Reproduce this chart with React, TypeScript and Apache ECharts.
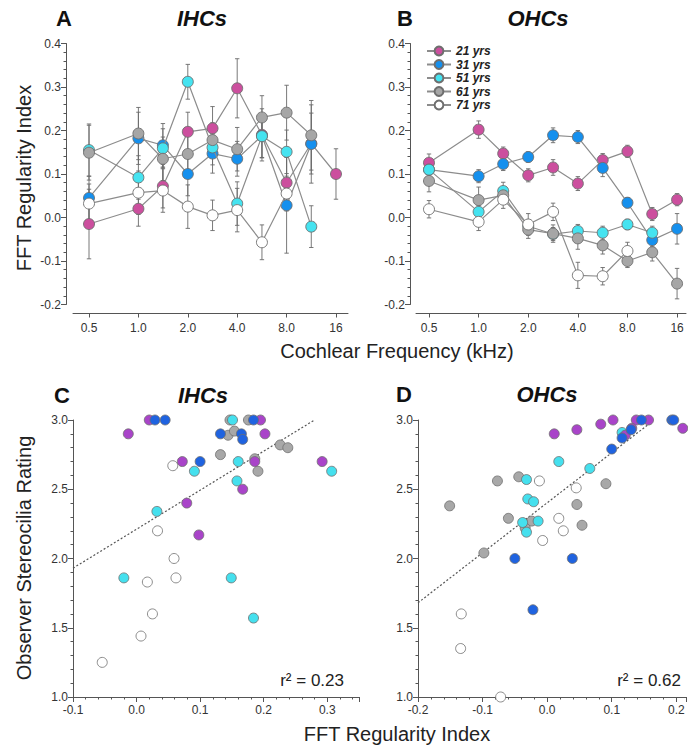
import React, { useEffect, useRef } from "react";
import * as echarts from "echarts";

// ---------- DATA ----------
const freqs = [0.5, 1, 1.41, 2, 2.83, 4, 5.66, 8, 11.31, 16];
const freqTickValues = [0.5, 1, 2, 4, 8, 16];
const freqTickLabels = ["0.5", "1.0", "2.0", "4.0", "8.0", "16"];
const ages = ["21 yrs", "31 yrs", "51 yrs", "61 yrs", "71 yrs"];

// Panel A: IHCs mean FFT regularity index (null = no data) and error (half length)
const ihc21 = [-0.015, 0.02, 0.072, 0.197, 0.205, 0.297, 0.19, 0.08, 0.17, 0.1];
const ihc21Err = [0.08, 0.04, 0.05, 0.045, 0.05, 0.068, 0.06, 0.06, 0.07, 0.058];
const ihc31 = [0.045, 0.182, 0.166, 0.1, 0.147, 0.135, 0.188, 0.028, 0.169, null];
const ihc31Err = [0.05, 0.06, 0.05, 0.05, 0.045, 0.04, 0.05, 0.11, 0.09, null];
const ihc51 = [0.155, 0.092, 0.159, 0.312, 0.161, 0.032, 0.187, 0.151, -0.021, null];
const ihc51Err = [0.06, 0.05, 0.045, 0.04, 0.04, 0.05, 0.05, 0.05, 0.048, null];
const ihc61 = [0.149, 0.193, 0.135, 0.146, 0.178, 0.157, 0.23, 0.241, 0.189, null];
const ihc61Err = [0.063, 0.06, 0.05, 0.05, 0.04, 0.05, 0.05, 0.063, 0.08, null];
const ihc71 = [0.032, 0.057, 0.062, 0.025, 0.005, 0.017, -0.057, 0.055, null, null];
const ihc71Err = [0.045, 0.05, 0.05, 0.05, 0.035, 0.05, 0.04, 0.04, null, null];

// Panel B: OHCs
const ohc21 = [0.126, 0.202, 0.147, 0.097, 0.115, 0.078, 0.132, 0.152, 0.008, 0.041];
const ohc21Err = [0.02, 0.02, 0.015, 0.015, 0.018, 0.016, 0.015, 0.014, 0.015, 0.014];
const ohc31 = [0.11, 0.095, 0.123, 0.139, 0.189, 0.185, 0.114, 0.034, -0.052, -0.026];
const ohc31Err = [0.015, 0.015, 0.015, 0.012, 0.017, 0.015, 0.02, 0.012, 0.015, 0.035];
const ohc51 = [0.11, 0.013, 0.061, -0.02, -0.038, -0.031, -0.035, -0.016, -0.035, null];
const ohc51Err = [0.015, 0.015, 0.02, 0.015, 0.015, 0.015, 0.015, 0.012, 0.015, null];
const ohc61 = [0.084, 0.04, 0.051, -0.028, -0.037, -0.048, -0.064, -0.1, -0.08, -0.152];
const ohc61Err = [0.025, 0.03, 0.02, 0.02, 0.02, 0.025, 0.02, 0.015, 0.02, 0.035];
const ohc71 = [0.019, -0.01, 0.041, -0.016, 0.013, -0.133, -0.135, -0.077, null, null];
const ohc71Err = [0.02, 0.02, 0.02, 0.025, 0.02, 0.03, 0.02, 0.02, null, null];

// Panel C: IHCs, [FFT regularity index, observer stereocilia rating]
const c21 = [[-0.013, 2.9], [0.02, 3.0], [0.072, 2.7], [0.079, 2.4], [0.098, 2.17], [0.167, 2.5], [0.186, 2.7], [0.195, 3.0], [0.202, 2.9], [0.292, 2.7]];
const c31 = [[0.029, 3.0], [0.045, 3.0], [0.1, 2.7], [0.132, 2.9], [0.165, 2.9], [0.167, 2.86], [0.184, 3.0]];
const c51 = [[0.091, 2.63], [0.032, 2.34], [-0.02, 1.86], [0.149, 1.86], [0.184, 1.57], [0.158, 2.56], [0.16, 2.7], [0.151, 3.0], [0.307, 2.63]];
const c61 = [[0.132, 2.75], [0.144, 2.89], [0.154, 2.92], [0.147, 3.0], [0.176, 3.0], [0.186, 2.72], [0.191, 2.63], [0.226, 2.82], [0.238, 2.8]];
const c71 = [[0.057, 2.67], [0.033, 2.2], [0.059, 2.0], [0.017, 1.83], [0.062, 1.86], [0.025, 1.6], [0.007, 1.44], [-0.054, 1.25]];
const regC = [[-0.1, 1.93], [0.28, 3.0]];

// Panel D: OHCs
const d21 = [[0.011, 2.9], [0.046, 2.93], [0.083, 2.97], [0.102, 3.0], [0.138, 3.0], [0.157, 3.0], [0.131, 2.94], [0.121, 2.89], [0.21, 2.94]];
const d31 = [[-0.05, 2.0], [0.039, 2.0], [-0.022, 1.63], [0.1, 2.79], [0.116, 2.87], [0.13, 2.93], [0.146, 3.0], [0.193, 3.0], [0.196, 3.0]];
const d51 = [[-0.032, 2.57], [-0.03, 2.43], [-0.021, 2.41], [-0.038, 2.26], [-0.032, 2.19], [-0.014, 2.27], [0.018, 2.7], [0.066, 2.65], [0.116, 2.91]];
const d61 = [[-0.151, 2.38], [-0.098, 2.04], [-0.077, 2.56], [-0.044, 2.59], [-0.06, 2.29], [-0.024, 2.27], [-0.034, 2.22], [0.046, 2.39], [0.054, 2.24], [0.091, 2.54]];
const d71 = [[-0.012, 2.56], [0.045, 2.51], [0.018, 2.29], [0.025, 2.2], [-0.007, 2.13], [-0.133, 1.6], [-0.134, 1.35], [-0.072, 1.0]];
const regD = [[-0.2, 1.68], [0.16, 2.98]];

const r2C = "0.23";
const r2D = "0.62";

// ---------- STYLE ----------
const FONT = "'Liberation Sans', Arial, Helvetica, sans-serif";
const topColors = ["#cc4f9e", "#1590ee", "#45e3f0", "#a6a6a6", "#ffffff"];
const botColors = ["#a944c9", "#1f63e0", "#45e0ee", "#a8a8a8", "#ffffff"];
const AXIS = "#555";
const LABEL = "#333";

const log2 = (v: number) => Math.log2(v);

function lineData(means: (number | null)[]) {
  const out: number[][] = [];
  means.forEach((m, i) => {
    if (m !== null) out.push([log2(freqs[i]), m]);
  });
  return out;
}
function errData(means: (number | null)[], errs: (number | null)[]) {
  const out: number[][] = [];
  means.forEach((m, i) => {
    const e = errs[i];
    if (m !== null && e !== null) out.push([log2(freqs[i]), m - e, m + e]);
  });
  return out;
}

const errRender = (params: any, api: any) => {
  const x = api.value(0);
  const lo = api.value(1);
  const hi = api.value(2);
  const top = api.coord([x, hi]);
  const bot = api.coord([x, lo]);
  const w = 2.2;
  const style = { stroke: "#6a6a6a", lineWidth: 0.9 };
  return {
    type: "group",
    children: [
      { type: "line", shape: { x1: top[0], y1: top[1], x2: bot[0], y2: bot[1] }, style },
      { type: "line", shape: { x1: top[0] - w, y1: top[1], x2: top[0] + w, y2: top[1] }, style },
      { type: "line", shape: { x1: bot[0] - w, y1: bot[1], x2: bot[0] + w, y2: bot[1] }, style },
    ],
  };
};

function freqXAxis(gridIndex: number, min: number, max: number) {
  const ticks = freqTickValues.map(log2);
  return {
    type: "value",
    gridIndex,
    min,
    max,
    offset: 9,
    splitLine: { show: false },
    axisLine: { show: true, onZero: false, lineStyle: { color: AXIS, width: 1 } },
    axisTick: { show: true, customValues: ticks, length: 4, lineStyle: { color: AXIS } },
    axisLabel: {
      customValues: ticks,
      color: LABEL,
      fontFamily: FONT,
      fontSize: 12,
      margin: 8,
      formatter: (v: number) => {
        const idx = ticks.findIndex((t) => Math.abs(t - v) < 1e-6);
        return idx >= 0 ? freqTickLabels[idx] : "";
      },
    },
  };
}

function fftYAxis(gridIndex: number, offset: number) {
  return {
    type: "value",
    gridIndex,
    min: -0.2,
    max: 0.4,
    interval: 0.1,
    offset,
    splitLine: { show: false },
    axisLine: { show: true, onZero: false, lineStyle: { color: AXIS, width: 1 } },
    axisTick: { show: true, length: 5, lineStyle: { color: AXIS } },
    minorTick: { show: true, splitNumber: 5, length: 2.5, lineStyle: { color: AXIS } },
    axisLabel: { color: LABEL, fontFamily: FONT, fontSize: 12, margin: 5, formatter: (v: number) => v.toFixed(1) },
  };
}

function ratingYAxis(gridIndex: number) {
  return {
    type: "value",
    gridIndex,
    min: 1.0,
    max: 3.0,
    interval: 0.5,
    splitLine: { show: false },
    axisLine: { show: true, onZero: false, lineStyle: { color: AXIS, width: 1 } },
    axisTick: { show: true, length: 5, lineStyle: { color: AXIS } },
    minorTick: { show: true, splitNumber: 5, length: 2.5, lineStyle: { color: AXIS } },
    axisLabel: { color: LABEL, fontFamily: FONT, fontSize: 12, margin: 5, formatter: (v: number) => v.toFixed(1) },
  };
}

function fftXAxis(gridIndex: number, min: number, max: number) {
  return {
    type: "value",
    gridIndex,
    min,
    max,
    interval: 0.1,
    splitLine: { show: false },
    axisLine: { show: true, onZero: false, lineStyle: { color: AXIS, width: 1 } },
    axisTick: { show: true, length: 5, lineStyle: { color: AXIS } },
    minorTick: { show: true, splitNumber: 5, length: 2.5, lineStyle: { color: AXIS } },
    axisLabel: {
      color: LABEL,
      fontFamily: FONT,
      fontSize: 12,
      margin: 7,
      showMaxLabel: false,
      formatter: (v: number) => (Math.abs(v) < 1e-9 ? "0.0" : v.toFixed(1)),
    },
  };
}

function buildOption() {
  const series: any[] = [];
  const topSets = [
    { idx: 1, means: [ohc21, ohc31, ohc51, ohc61, ohc71], errs: [ohc21Err, ohc31Err, ohc51Err, ohc61Err, ohc71Err] },
    { idx: 0, means: [ihc21, ihc31, ihc51, ihc61, ihc71], errs: [ihc21Err, ihc31Err, ihc51Err, ihc61Err, ihc71Err] },
  ];
  topSets.forEach((set) => {
    set.means.forEach((m, k) => {
      series.push({
        type: "custom",
        name: (set.idx === 0 ? "IHC err " : "OHC err ") + ages[k],
        xAxisIndex: set.idx,
        yAxisIndex: set.idx,
        renderItem: errRender,
        encode: { x: 0, y: [1, 2] },
        data: errData(m, set.errs[k]),
        z: 1,
        clip: false,
        silent: true,
      });
    });
    set.means.forEach((m, k) => {
      series.push({
        type: "line",
        name: ages[k],
        xAxisIndex: set.idx,
        yAxisIndex: set.idx,
        data: lineData(m),
        symbol: "circle",
        symbolSize: 11,
        z: 2 + k * 0.1,
        lineStyle: { color: "#8c8c8c", width: 1.2 },
        itemStyle: { color: topColors[k], borderColor: "#6e6e6e", borderWidth: 0.9 },
      });
    });
  });

  const botSets = [
    { idx: 2, pts: [c21, c31, c51, c61, c71], reg: regC, label: "IHC " },
    { idx: 3, pts: [d21, d31, d51, d61, d71], reg: regD, label: "OHC " },
  ];
  botSets.forEach((set) => {
    series.push({
      type: "line",
      name: set.label + "fit",
      xAxisIndex: set.idx,
      yAxisIndex: set.idx,
      data: set.reg,
      symbol: "none",
      z: 1,
      lineStyle: { color: "#555", width: 1.2, type: [2, 2] },
      silent: true,
    });
    const order = [4, 3, 2, 0, 1];
    order.forEach((k) => {
      series.push({
        type: "scatter",
        name: set.label + ages[k],
        xAxisIndex: set.idx,
        yAxisIndex: set.idx,
        data: set.pts[k],
        symbol: "circle",
        symbolSize: 10,
        clip: false,
        z: 3,
        itemStyle: { color: botColors[k], borderColor: "#6e6e6e", borderWidth: 0.8, opacity: 1 },
      });
    });
  });

  const titleFont = (size: number, italic = false) => ({
    font: `${italic ? "italic " : ""}bold ${size}px ${FONT}`,
    fill: "#111",
    align: "center",
    verticalAlign: "middle",
  });
  const plainFont = (size: number) => ({
    font: `${size}px ${FONT}`,
    fill: "#222",
    align: "center",
    verticalAlign: "middle",
  });

  const graphic: any[] = [
    { type: "text", x: 64, y: 18, style: { text: "A", ...titleFont(22) } },
    { type: "text", x: 202, y: 18, style: { text: "IHCs", ...titleFont(22, true) } },
    { type: "text", x: 405, y: 18, style: { text: "B", ...titleFont(22) } },
    { type: "text", x: 538, y: 18, style: { text: "OHCs", ...titleFont(22, true) } },
    { type: "text", x: 62, y: 395, style: { text: "C", ...titleFont(22) } },
    { type: "text", x: 203, y: 395, style: { text: "IHCs", ...titleFont(22, true) } },
    { type: "text", x: 404, y: 394, style: { text: "D", ...titleFont(22) } },
    { type: "text", x: 547, y: 394, style: { text: "OHCs", ...titleFont(22, true) } },
    { type: "text", x: 24, y: 178, rotation: Math.PI / 2, style: { text: "FFT Regularity Index", ...plainFont(20) } },
    { type: "text", x: 397, y: 351, style: { text: "Cochlear Frequency (kHz)", ...plainFont(20) } },
    { type: "text", x: 24, y: 558, rotation: Math.PI / 2, style: { text: "Observer Stereocilia Rating", ...plainFont(20) } },
    { type: "text", x: 397, y: 734, style: { text: "FFT Regularity Index", ...plainFont(20) } },
    { type: "text", x: 344, y: 680, style: { text: "r\u00B2 = " + r2C, font: `17px ${FONT}`, fill: "#222", align: "right", verticalAlign: "middle" } },
    { type: "text", x: 681, y: 680, style: { text: "r\u00B2 = " + r2D, font: `17px ${FONT}`, fill: "#222", align: "right", verticalAlign: "middle" } },
  ];

  return {
    animation: false,
    backgroundColor: "#ffffff",
    textStyle: { fontFamily: FONT },
    legend: {
      data: ages,
      orient: "vertical",
      left: 421,
      top: 40,
      itemWidth: 24,
      itemHeight: 11,
      itemGap: 1.5,
      textStyle: { fontFamily: FONT, fontSize: 12, fontWeight: "bold", fontStyle: "italic", color: "#222" },
      selectedMode: false,
    },
    grid: [
      { left: 73, top: 43.5, width: 275, height: 261 },
      { left: 416, top: 43.5, width: 270, height: 261 },
      { left: 73, top: 420, width: 286, height: 277 },
      { left: 418, top: 420, width: 268, height: 277 },
    ],
    xAxis: [
      freqXAxis(0, -1.324, 4.243),
      freqXAxis(1, -1.262, 4.18),
      fftXAxis(2, -0.1, 0.35),
      fftXAxis(3, -0.2, 0.215),
    ],
    yAxis: [fftYAxis(0, 7), fftYAxis(1, 6), ratingYAxis(2), ratingYAxis(3)],
    series,
    graphic,
  };
}

export default function App() {
  const ref = useRef<HTMLDivElement>(null);
  useEffect(() => {
    if (!ref.current) return;
    const chart = echarts.init(ref.current, null, { renderer: "svg" });
    chart.setOption(buildOption() as any);
    return () => chart.dispose();
  }, []);
  return <div ref={ref} style={{ position: "fixed", left: 0, top: 0, width: 688, height: 748 }} />;
}
